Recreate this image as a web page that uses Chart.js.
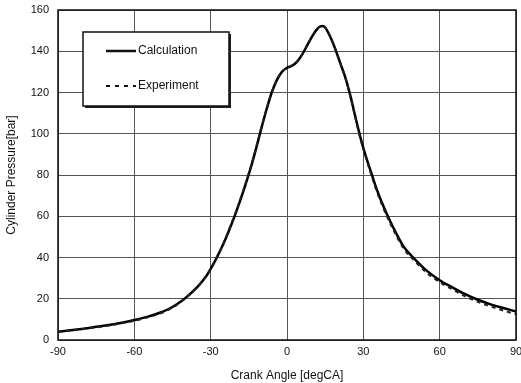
<!DOCTYPE html>
<html>
<head>
<meta charset="utf-8">
<script src="https://cdn.jsdelivr.net/npm/chart.js@4.4.0/dist/chart.umd.min.js"></script>
<style>
  html, body { margin: 0; padding: 0; background: #fff; }
  #wrap { width: 521px; height: 383px; }
</style>
</head>
<body>
<div id="wrap"><canvas id="pressureChart" width="521" height="383"></canvas></div>
<script>
// crank angle (degCA) and cylinder pressure (bar)
const calcAngle = [-90, -85, -80, -75, -70, -65, -60, -55, -50, -45, -40, -35, -32, -30, -28, -26, -24, -22, -20, -18, -16, -14, -12, -10, -8, -6, -4, -2, 0, 2, 4, 6, 8, 10, 12, 13, 14, 15, 17, 19, 21, 23, 25, 27, 29, 31, 33, 35, 37, 40, 43, 46, 50, 55, 60, 65, 70, 75, 80, 85, 90];
const calcPressure = [4.0, 4.7, 5.5, 6.4, 7.3, 8.4, 9.7, 11.2, 13.2, 16.0, 20.3, 26, 30.5, 34.5, 39, 44, 49.5, 55.5, 62, 69, 76.5, 84.5, 93.5, 103, 112, 120, 126, 130, 132, 133, 135, 138.5, 143, 147.5, 151, 152, 152.3, 151.5, 147, 141, 134, 127, 118, 107.5, 97.5, 89, 81.5, 74, 67.5, 59, 51.5, 45, 39.5, 33.5, 29, 25.5, 22.2, 19.5, 17.3, 15.5, 13.8];

const expAngle = [-90, -85, -80, -75, -70, -65, -60, -55, -50, -45, -40, -35, -32, -30, -28, -26, -24, -22, -20, -18, -16, -14, -12, -10, -8, -6, -4, -2, 0, 2, 4, 6, 8, 10, 12, 13, 14, 15, 17, 19, 21, 23, 25, 27, 29, 31, 33, 35, 37, 40, 43, 46, 50, 55, 60, 65, 70, 75, 80, 85, 90];
const expPressure = [3.9, 4.6, 5.3, 6.1, 7.0, 8.1, 9.3, 10.9, 12.8, 15.7, 20.1, 26, 30.5, 34.5, 39, 44, 49.8, 56, 62.5, 69.5, 77, 85, 94, 103.5, 112, 120, 126, 130, 132, 133, 135, 138.5, 143, 147.5, 151, 152, 152.3, 151.5, 147, 141, 134, 127, 117.5, 107, 97, 88.5, 80.5, 73, 66.5, 58, 50.5, 44, 38.5, 32.5, 28, 24.5, 21.2, 18.5, 16.3, 14.3, 12.5];

const xTicks = [-90, -60, -30, 0, 30, 60, 90];
const yTicks = [0, 20, 40, 60, 80, 100, 120, 140, 160];
const seriesNames = ['Calculation', 'Experiment'];

const toPoints = (xs, ys) => xs.map((x, i) => ({ x: x, y: ys[i] }));

// legend box drawn inside the plot, like the original figure
const boxLegend = {
  id: 'boxLegend',
  afterDraw(chart) {
    const c = chart.ctx;
    const x0 = 83, y0 = 32, w = 146, h = 74;
    c.save();
    c.fillStyle = '#222';
    c.fillRect(x0 + 2, y0 + 2, w, h);
    c.fillStyle = '#fff';
    c.fillRect(x0, y0, w, h);
    c.strokeStyle = '#111';
    c.lineWidth = 1.5;
    c.strokeRect(x0, y0, w, h);
    c.font = '12px "Liberation Sans", Arial, sans-serif';
    c.fillStyle = '#111';
    c.textBaseline = 'middle';
    // Calculation
    c.lineWidth = 2.5;
    c.beginPath(); c.moveTo(106, 51); c.lineTo(136, 51); c.stroke();
    c.fillText(seriesNames[0], 138, 51);
    // Experiment
    c.lineWidth = 2;
    c.setLineDash([4, 5]);
    c.beginPath(); c.moveTo(106, 86); c.lineTo(136, 86); c.stroke();
    c.setLineDash([]);
    c.fillText(seriesNames[1], 138, 86);
    c.restore();
  }
};

const frame = {
  id: 'frame',
  afterDatasetsDraw(chart) {
    const a = chart.chartArea, c = chart.ctx;
    c.save();
    c.strokeStyle = '#111';
    c.lineWidth = 1.5;
    c.strokeRect(a.left, a.top, a.right - a.left, a.bottom - a.top);
    c.restore();
  }
};

const tickFont = { family: '"Liberation Sans", Arial, sans-serif', size: 11 };

new Chart(document.getElementById('pressureChart'), {
  type: 'line',
  data: {
    datasets: [
      {
        label: seriesNames[1],
        data: toPoints(expAngle, expPressure),
        borderColor: '#222',
        borderWidth: 2,
        borderDash: [4, 4],
        pointRadius: 0,
        cubicInterpolationMode: 'monotone'
      },
      {
        label: seriesNames[0],
        data: toPoints(calcAngle, calcPressure),
        borderColor: '#000',
        borderWidth: 2.5,
        pointRadius: 0,
        cubicInterpolationMode: 'monotone'
      }
    ]
  },
  options: {
    responsive: false,
    animation: false,
    layout: { padding: { left: 0, top: 10, right: 5, bottom: 0 } },
    scales: {
      x: {
        type: 'linear',
        min: -90,
        max: 90,
        afterBuildTicks: s => { s.ticks = xTicks.map(v => ({ value: v })); },
        afterFit: s => { s.height = 43; s.paddingLeft = 0; s.paddingRight = 0; },
        grid: { color: '#555', lineWidth: 1, drawTicks: false },
        border: { display: false },
        ticks: { color: '#111', font: tickFont, padding: 5, maxRotation: 0 },
        title: {
          display: true,
          text: 'Crank Angle [degCA]',
          color: '#111',
          font: { family: '"Liberation Sans", Arial, sans-serif', size: 12 },
          padding: { top: 2, bottom: 0 }
        }
      },
      y: {
        min: 0,
        max: 160,
        afterBuildTicks: s => { s.ticks = yTicks.map(v => ({ value: v })); },
        afterFit: s => { s.width = 58; s.paddingTop = 0; s.paddingBottom = 0; },
        grid: { color: '#555', lineWidth: 1, drawTicks: false },
        border: { display: false },
        ticks: { color: '#111', font: tickFont, padding: 9 },
        title: {
          display: true,
          text: 'Cylinder Pressure[bar]',
          color: '#111',
          font: { family: '"Liberation Sans", Arial, sans-serif', size: 12 },
          padding: { top: 4, bottom: 2 }
        }
      }
    },
    plugins: {
      legend: { display: false },
      tooltip: { enabled: false }
    }
  },
  plugins: [frame, boxLegend]
});
</script>
</body>
</html>
